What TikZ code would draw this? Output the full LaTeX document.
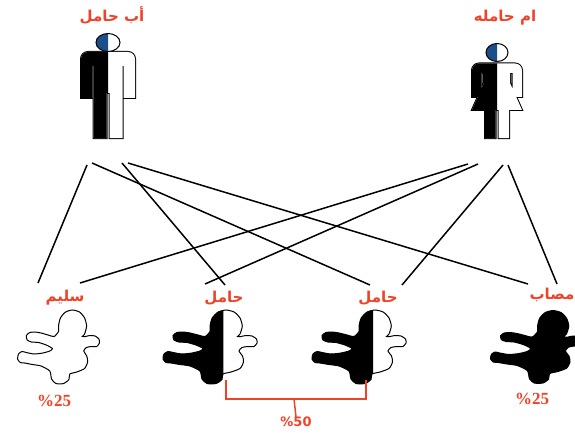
\documentclass[tikz,border=0pt]{standalone}
\usepackage{fontspec}
\setmainfont{Liberation Serif}
\newfontfamily\arabicfont[Script=Arabic]{DejaVu Sans}
\newfontfamily\pctsans{DejaVu Sans}
\TeXXeTstate=1
\definecolor{labred}{RGB}{240,66,40}
\definecolor{headblue}{RGB}{28,78,138}

% man silhouette, split line at x=0
\def\manpath{(-27,80) [rounded corners=7pt] -- (-27,52) -- (27,52) -- (27,80) [sharp corners]
  -- (27,98) -- (15.5,98) -- (15.5,66) -- (14.5,66) -- (14.5,138) -- (1.5,138) -- (1.5,93)
  -- (-1.5,93) -- (-1.5,138) -- (-14.5,138) -- (-14.5,66) -- (-15.5,66) -- (-15.5,98)
  -- (-27,98) -- cycle}
% woman silhouette, split line at x=0
\def\womanpath{(-25,85) [rounded corners=7pt] -- (-25,63.5) -- (25,63.5) -- (25,85) [sharp corners]
  -- (25,97) -- (15.5,97) -- (15.5,73) -- (13,73) -- (13,83) -- (25,110) -- (12,110)
  -- (12,138) -- (1.5,138) -- (1.5,110) -- (-1.5,110) -- (-1.5,138) -- (-12,138)
  -- (-12,110) -- (-25,110) -- (-13,83) -- (-13,73) -- (-15.5,73) -- (-15.5,97)
  -- (-25,97) -- cycle}
% baby silhouette: round head, fist to the right, arm and leg stretched to the left
\def\babypath{plot[smooth cycle, tension=0.4] coordinates {
  (66,5) (74.3,7.1) (80,13) (82.3,21) (80,29) (77.5,31.5)
  (81,31.5) (86,30.5) (92,31) (96.5,34) (97,38) (94,41.5) (88,41.5) (82,42.5)
  (79,46) (82.5,51) (83.5,57) (80,63.5) (71,67) (63,69)
  (62,74.5) (56,78.5) (47,78.5) (42,74) (40,66)
  (30,61) (20,59.5) (11,58) (6,57.5) (3,54) (4,49) (8,46.5) (13,47.5)
  (22,49) (32,48) (40,46) (43,43.5)
  (36,40) (27,37.5) (19,37) (14,35) (13,30.5) (17,27.5) (23,27)
  (30,28) (38,30) (45,31.5) (50,26.5) (50,21) (52.2,13) (58,7.1)}}

\tikzset{
  link/.style={line width=1.5pt, black},
  bracket/.style={line width=1.5pt, labred},
  lbl/.style={text=labred, inner sep=0pt, font=\arabicfont\bfseries\fontsize{15}{15}\selectfont},
  pct/.style={text=labred, inner sep=0pt, font=\bfseries\fontsize{17}{17}\selectfont},
  pctb/.style={text=labred, inner sep=0pt, font=\pctsans\bfseries\fontsize{13}{13}\selectfont},
  edge/.style={line width=1pt, black},
}

\begin{document}
\begin{tikzpicture}[x=1pt,y=-1pt]
\clip (0,0) rectangle (575,433);
\fill[white] (0,0) rectangle (575,433);

% ---- parents ----
\begin{scope}[shift={(108,0)}]
  \draw[line width=2pt] \manpath;
  \fill[white] \manpath;
  \begin{scope}\clip (-40,40) rectangle (0,150); \fill[black] \manpath; \end{scope}
  \fill[white] (0,42.5) ellipse [x radius=12, y radius=9];
  \begin{scope}\clip (-20,30) rectangle (0,55); \fill[headblue] (0,42.5) ellipse [x radius=12, y radius=9]; \end{scope}
  \draw[edge] (0,42.5) ellipse [x radius=12, y radius=9];
\end{scope}

\begin{scope}[shift={(497,0)}]
  \draw[line width=2pt] \womanpath;
  \fill[white] \womanpath;
  \begin{scope}\clip (-40,55) rectangle (0,150); \fill[black] \womanpath; \end{scope}
  \fill[white] (0,52.5) ellipse [x radius=11, y radius=9];
  \begin{scope}\clip (-20,40) rectangle (0,65); \fill[headblue] (0,52.5) ellipse [x radius=11, y radius=9]; \end{scope}
  \draw[edge] (0,52.5) ellipse [x radius=11, y radius=9];
\end{scope}

\node[lbl] (father) at (112,15) {\beginR أب حامل\endR};
\node[lbl] (mother) at (505,18) {\beginR ام حامله\endR};

% ---- children ----
% healthy
\begin{scope}[shift={(15,305)}, xscale=0.87]
  \fill[white] \babypath;
  \draw[edge] \babypath;
\end{scope}
% carrier
\begin{scope}[shift={(160,305)}]
  \fill[white] \babypath;
  \draw[edge] \babypath;
  \begin{scope}\clip (0,0) rectangle (63.3,90); \fill[black] \babypath; \end{scope}
\end{scope}
% carrier
\begin{scope}[shift={(309,305)}]
  \fill[white] \babypath;
  \draw[edge] \babypath;
  \begin{scope}\clip (0,0) rectangle (64,90); \fill[black] \babypath; \end{scope}
\end{scope}
% affected
\begin{scope}[shift={(487,305)}]
  \fill[black] \babypath;
\end{scope}

\node[lbl] (c1) at (65,298) {\beginR سليم\endR};
\node[lbl] (c2) at (224,298) {\beginR حامل\endR};
\node[lbl] (c3) at (378,298) {\beginR حامل\endR};
\node[lbl] (c4) at (552,295) {\beginR مصاب\endR};

% ---- inheritance lines ----
\coordinate (fA) at (87,165);
\coordinate (fB) at (92,163);
\coordinate (fC) at (122,163);
\coordinate (fD) at (128,163);
\coordinate (mA) at (468,164);
\coordinate (mB) at (478,164);
\coordinate (mC) at (503,165);
\coordinate (mD) at (508,165);
\coordinate (c1a) at (38,283);
\coordinate (c1b) at (80,283);
\coordinate (c2b) at (205,284);
\coordinate (c2a) at (225,285);
\coordinate (c3a) at (370,285);
\coordinate (c3b) at (402,285);
\coordinate (c4a) at (528,284);
\coordinate (c4b) at (557,284);

\draw[link] (fA) -- (c1a);
\draw[link] (fB) -- (c3a);
\draw[link] (fC) -- (c2a);
\draw[link] (fD) -- (c4a);
\draw[link] (mA) -- (c1b);
\draw[link] (mB) -- (c2b);
\draw[link] (mC) -- (c3b);
\draw[link] (mD) -- (c4b);

% ---- percentages ----
\node[pct] (p1) at (54,401) {\%25};
\node[pct] (p4) at (532,399) {\%25};
\node[pctb] (p23) at (296,422) {\%50};

\coordinate (bl) at (226,380);
\coordinate (br) at (366,380);
\coordinate (bm) at (294,399);
\draw[bracket] (bl) |- (bm) -| (br);
\draw[bracket] (bm) -- (p23.north);
\end{tikzpicture}
\end{document}
